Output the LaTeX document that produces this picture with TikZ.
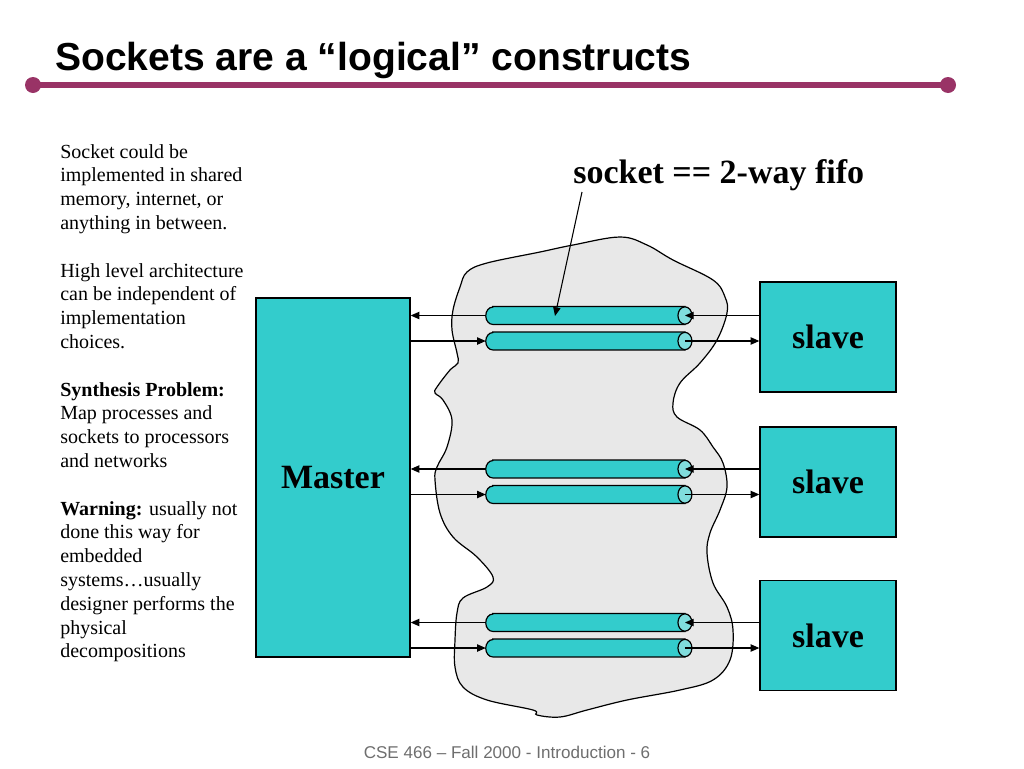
\documentclass[tikz,border=0pt]{standalone}
\usepackage{fontspec}
\setmainfont{Liberation Serif}
\newfontfamily\arialfont{Liberation Sans}
\usetikzlibrary{arrows.meta}
\definecolor{tealc}{RGB}{51,204,204}
\definecolor{capc}{RGB}{128,221,221}
\definecolor{cloudc}{RGB}{232,232,232}
\definecolor{purp}{RGB}{153,51,102}
\definecolor{footc}{RGB}{110,110,110}
\begin{document}
\begin{tikzpicture}[x=0.75pt,y=-0.75pt,
  box/.style={draw=black, line width=1pt, fill=tealc, inner sep=0pt, font=\fontsize{25.5}{30}\selectfont\bfseries},
  pipe/.style={inner sep=0pt, minimum width=149pt, minimum height=13pt},
  pipebody/.style={draw=black, line width=0.9pt, fill=tealc},
  pipecap/.style={draw=black, line width=0.9pt, fill=capc},
  arr/.style={line width=0.8pt, -{Triangle[length=6.5pt,width=5.5pt]}},
]
\useasboundingbox (0,0) rectangle (1024,768);
% title
\node[anchor=west, inner sep=0pt, font=\arialfont\bfseries\fontsize{29.3}{34}\selectfont] (title) at (55,60) {Sockets are a “logical” constructs};
\draw[purp, line width=4.5pt] (33,85) -- (948,85);
\fill[purp] (33,85) circle[radius=6pt];
\fill[purp] (948,85) circle[radius=6pt];
% left text
\node[anchor=north west, align=left, inner sep=0pt, font=\fontsize{15}{17.85}\selectfont] (txt) at (60,144) {%
Socket could be\\ implemented in shared\\ memory, internet, or\\ anything in between.\\[17.85pt]
High level architecture\\ can be independent of\\ implementation\\ choices.\\[17.85pt]
\textbf{Synthesis Problem:}\\ Map processes and\\ sockets to processors\\ and networks\\[17.85pt]
\textbf{Warning:} usually not\\ done this way for\\ embedded\\ systems…usually\\ designer performs the\\ physical\\ decompositions};
% cloud
\draw[line width=0.9pt, fill=cloudc] plot[smooth cycle, tension=0.6] coordinates {
(620,237) (647,245) (673,260) (713,280) (725,297) (727,313) (717,340) (700,363) (680,383) (673,403) (677,417) (700,430) (713,447) (723,463) (727,487) (720,510) (710,533) (707,553) (713,583) (727,607) (733,630) (730,660) (713,680) (680,690) (627,700) (587,710) (560,717) (537,715) (533,710) (487,700) (463,687) (455,667) (455,640) (457,613) (463,598) (487,587) (493,577) (477,557) (453,537) (440,513) (435,480) (437,467) (447,447) (452,420) (443,400) (435,393) (437,387) (450,370) (458,363) (457,353) (452,330) (453,310) (460,287) (467,272) (487,263) (540,252) (573,245)};
% boxes
\node[box, minimum width=115.5pt, minimum height=269.25pt] (m) at (333,477.5) {\raisebox{-2pt}{Master}};
\node[box, minimum width=102pt, minimum height=82.5pt] (s1) at (828,337) {\raisebox{-1.5pt}{slave}};
\node[box, minimum width=102pt, minimum height=82.5pt] (s2) at (828,482) {\raisebox{-1.5pt}{slave}};
\node[box, minimum width=102pt, minimum height=82.5pt] (s3) at (828,635.5) {\raisebox{-1.5pt}{slave}};
% pipes
\foreach \i/\ya/\yb in {1/315.5/341, 2/469/494.5, 3/622.5/648} {
  \node[pipe] (a\i) at (585.35,\ya) {};
  \node[pipe] (b\i) at (585.35,\yb) {};
  \foreach \p in {a\i,b\i} {
    \draw[pipebody] ([xshift=5.25pt]\p.north west) -- (\p.north east) -- (\p.south east) -- ([xshift=5.25pt]\p.south west)
      arc[start angle=270, end angle=90, x radius=5.25pt, y radius=6.5pt] -- cycle;
    \draw[pipecap] (\p.east) ellipse[x radius=5.25pt, y radius=6.5pt];
  }
  \draw[arr] (a\i.east -| s\i.west) -- (a\i.east);
  \draw[arr] (a\i.west) -- (a\i.west -| m.east);
  \draw[arr] (b\i.west -| m.east) -- (b\i.west);
  \draw[arr] (b\i.east) -- (b\i.east -| s\i.west);
}
% label
\node[anchor=west, inner sep=0pt, font=\fontsize{25.5}{30}\selectfont\bfseries] (sock) at (573,175) {socket == 2-way fifo};
\coordinate (lblfoot) at (582,192);
\coordinate (lbltip) at (555,316);
\draw[arr] (lblfoot) -- (lbltip);
% footer
\node[font=\arialfont\fontsize{12.8}{15}\selectfont, text=footc] (foot) at (507,752) {CSE 466 – Fall 2000 - Introduction - 6};
\end{tikzpicture}
\end{document}
